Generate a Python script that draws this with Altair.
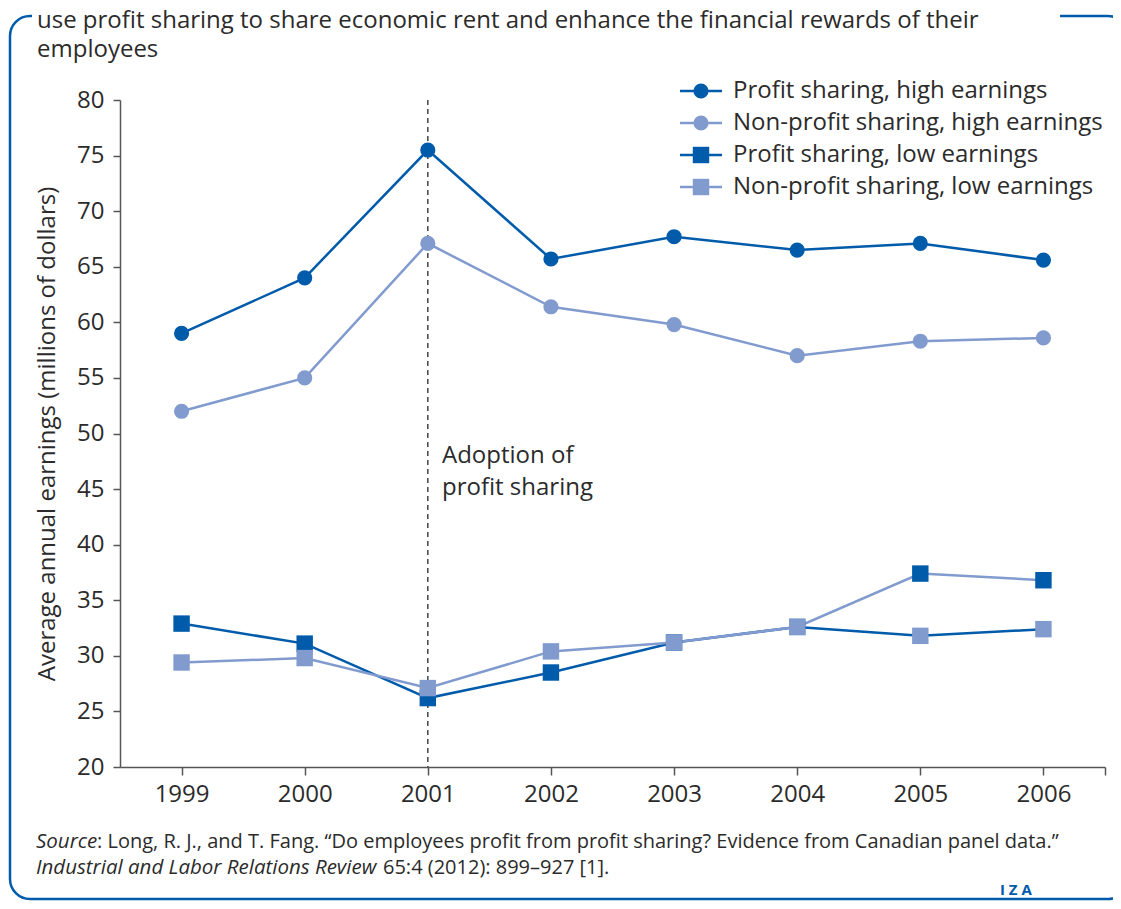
import altair as alt
import pandas as pd

# ---------------- data ----------------
years = [1999, 2000, 2001, 2002, 2003, 2004, 2005, 2006]
ps_high = [59.0, 64.0, 75.5, 65.7, 67.7, 66.5, 67.1, 65.6]
nps_high = [52.0, 55.0, 67.1, 61.4, 59.8, 57.0, 58.3, 58.6]
# low earnings: in the published figure the lines and markers of 2005-2006 are crossed
ps_low_line = [32.9, 31.1, 26.2, 28.5, 31.2, 32.6, 31.8, 32.4]
nps_low_line = [29.4, 29.8, 27.1, 30.4, 31.2, 32.6, 37.4, 36.8]
ps_low_marker = [32.9, 31.1, 26.2, 28.5, 31.2, 32.6, 37.4, 36.8]
nps_low_marker = [29.4, 29.8, 27.1, 30.4, 31.2, 32.6, 31.8, 32.4]

series_names = ["Profit sharing, high earnings", "Non-profit sharing, high earnings",
                "Profit sharing, low earnings", "Non-profit sharing, low earnings"]
adoption_year = [2001]
y_ticks = [20, 25, 30, 35, 40, 45, 50, 55, 60, 65, 70, 75, 80]

DARK = "#005BAA"
LIGHT = "#829BCE"
TEXT = "#2b2b2b"
AXIS = "#555555"
FONT = "Open Sans"

W, H = 985, 667

def long(vals, name, tone):
    return pd.DataFrame({"year": years, "value": vals, "series": name, "tone": tone})

lines_df = pd.concat([
    long(ps_high, series_names[0], "dark"),
    long(nps_high, series_names[1], "light"),
    long(ps_low_line, series_names[2], "dark"),
    long(nps_low_line, series_names[3], "light"),
])
high_pts = pd.concat([
    long(ps_high, series_names[0], "dark"),
    long(nps_high, series_names[1], "light"),
])
low_pts = pd.concat([
    long(ps_low_marker, series_names[2], "dark"),
    long(nps_low_marker, series_names[3], "light"),
])

xscale = alt.Scale(domain=[1998.5, 2006.5], nice=False, zero=False)
yscale = alt.Scale(domain=[20, 80], nice=False, zero=False)

xenc = alt.X("year:Q", scale=xscale, axis=alt.Axis(
    values=years + [2006.5], format="d",
    labelExpr="datum.value == floor(datum.value) ? datum.label : ''",
    tickSize=8, labelPadding=7, title=None, grid=False))
yenc = alt.Y("value:Q", scale=yscale, axis=alt.Axis(
    values=y_ticks, tickSize=7, labelPadding=9, grid=False,
    title="Average annual earnings (millions of dollars)",
    titleX=-73, titleY=H / 2, titleAngle=270, titleAlign="center",
    titleBaseline="middle", titleFontSize=24, titleFontWeight="normal",
    titleColor=TEXT, titleFont=FONT))

one = pd.DataFrame({"k": [0]})

def txt(s, x, y, size=24, **kw):
    params = dict(text=s, align="left", baseline="alphabetic", font=FONT,
                  fontSize=size, color=TEXT)
    params.update(kw)
    return alt.Chart(one).mark_text(**params).encode(x=alt.value(x), y=alt.value(y))

# frame
frame = alt.Chart(one).mark_rect(fillOpacity=0, stroke=DARK, strokeWidth=2.5,
                                 cornerRadius=20).encode(
    x=alt.value(-110), x2=alt.value(1008), y=alt.value(-84), y2=alt.value(799))
cover = alt.Chart(one).mark_rect(fill="white", stroke=None).encode(
    x=alt.value(-88), x2=alt.value(940), y=alt.value(-92), y2=alt.value(-76))

base_lines = alt.Chart(lines_df)
dark_lines = base_lines.transform_filter("datum.tone == 'dark'").mark_line(
    color=DARK, strokeWidth=2.5).encode(x=xenc, y=yenc, detail="series:N")
light_lines = base_lines.transform_filter("datum.tone == 'light'").mark_line(
    color=LIGHT, strokeWidth=2.5).encode(x=xenc, y=yenc, detail="series:N")

def pts(df, tone, shape, size, color):
    return alt.Chart(df).transform_filter(f"datum.tone == '{tone}'").mark_point(
        shape=shape, filled=True, size=size, color=color, opacity=1).encode(x=xenc, y=yenc)

dark_hi = pts(high_pts, "dark", "circle", 230, DARK)
light_hi = pts(high_pts, "light", "circle", 230, LIGHT)
dark_lo = pts(low_pts, "dark", "square", 270, DARK)
light_lo = pts(low_pts, "light", "square", 270, LIGHT)

vline = alt.Chart(pd.DataFrame({"year": adoption_year})).mark_rule(
    color="#444444", strokeWidth=1.5, strokeDash=[5, 4]).encode(
    x=alt.X("year:Q", scale=xscale), y=alt.value(0), y2=alt.value(H))

# legend
legend_layers = []
legend_specs = [(DARK, "circle", 230), (LIGHT, "circle", 230),
                (DARK, "square", 270), (LIGHT, "square", 270)]
for i, (name, (col, shp, sz)) in enumerate(zip(series_names, legend_specs)):
    yy = -9 + 32 * i
    legend_layers.append(alt.Chart(one).mark_rule(color=col, strokeWidth=2.5).encode(
        x=alt.value(560), x2=alt.value(602), y=alt.value(yy)))
    legend_layers.append(alt.Chart(one).mark_point(shape=shp, filled=True, size=sz,
                                                   color=col, opacity=1).encode(
        x=alt.value(581), y=alt.value(yy)))
    legend_layers.append(txt(name, 613, yy, baseline="middle", dy=0))

texts = [
    txt("use profit sharing to share economic rent and enhance the financial rewards of their",
        -83, -72, size=24),
    txt("employees", -83, -43, size=24),
    txt("Adoption of", 322, 363),
    txt("profit sharing", 322, 395),
    txt("Source", -84, 748, size=20.5, fontStyle="italic"),
    txt(": Long, R. J., and T. Fang. \u201cDo employees profit from profit sharing? Evidence from Canadian panel data.\u201d",
        -23, 748, size=20),
    txt("Industrial and Labor Relations Review", -84, 774, size=20.5, fontStyle="italic"),
    txt("65:4 (2012): 899\u2013927 [1].", 263, 774, size=20),
    txt("I Z A", 880, 795, size=15, fontWeight="bold", color=DARK),
]

chart = alt.layer(
    frame, cover, vline, dark_lines, light_lines, dark_hi, light_hi, dark_lo, light_lo,
    *legend_layers, *texts
).properties(
    width=W, height=H,
    autosize=alt.AutoSizeParams(type="none"),
    padding={"left": 112, "top": 92, "right": 8, "bottom": 134},
    background="white",
).configure_view(stroke=None).configure_axis(
    labelFont=FONT, labelFontSize=24, labelColor=TEXT,
    tickColor=AXIS, domainColor=AXIS, tickWidth=1.5, domainWidth=1.5,
)

chart.save("out.html", embed_options={"renderer": "svg", "actions": False})
